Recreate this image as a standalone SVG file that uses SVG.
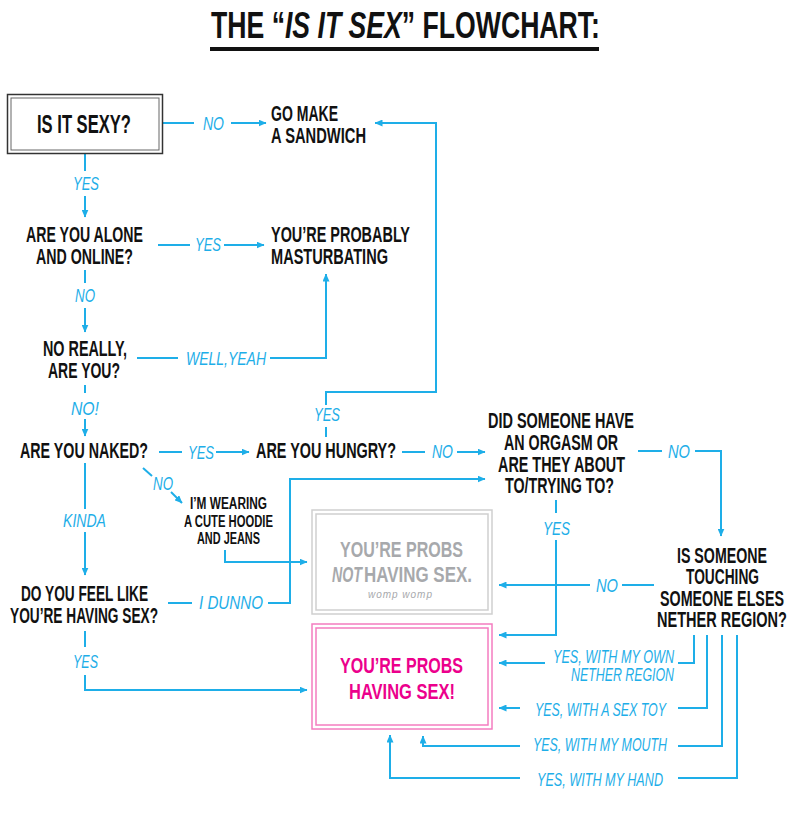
<svg xmlns="http://www.w3.org/2000/svg" width="800" height="828" viewBox="0 0 800 828">
<defs>
<marker id="ah" viewBox="0 0 8 7" refX="7.5" refY="3.5" markerWidth="8" markerHeight="7" markerUnits="userSpaceOnUse" orient="auto">
<path d="M0,0 L8,3.5 L0,7 z" fill="#1eaee8"/>
</marker>
<style>
.n{font-family:"Liberation Sans","DejaVu Sans",sans-serif;font-weight:bold;font-size:21.5px;fill:#111}
.s{font-size:16px}
.t{font-size:37px}
.b{font-size:25px}
.l{font-family:"Liberation Sans","DejaVu Sans",sans-serif;font-style:italic;font-size:19px;fill:#1eaee8}
.c{fill:none;stroke:#1eaee8;stroke-width:2}
.a{marker-end:url(#ah)}
.g{fill:#a7a9ac}
.p{fill:#ec008c}
.w{font-family:"Liberation Sans",sans-serif;font-style:italic;font-size:10px;fill:#a7a9ac}
</style>
</defs>
<rect width="800" height="828" fill="#fff"/>

<g id="title">
<text class="n t" x="211" y="38" textLength="389" lengthAdjust="spacingAndGlyphs">THE “<tspan font-style="italic">IS IT SEX</tspan>” FLOWCHART:</text>
<rect x="210" y="47" width="389" height="4" fill="#111"/>
</g>

<g id="connectors">
<path class="c" d="M162,123H194"/><path class="c a" d="M231,123H266"/>
<path class="c" d="M326,437V427"/><path class="c a" d="M326,405V392H436V123H375"/>
<path class="c" d="M85,153V171"/><path class="c a" d="M85,196V217"/>
<path class="c" d="M158,245H190"/><path class="c a" d="M224,245H264"/>
<path class="c" d="M85,270V283"/><path class="c a" d="M85,308V332"/>
<path class="c" d="M137,358H178"/><path class="c a" d="M270,358H326V274"/>
<path class="c" d="M85,385V393"/><path class="c a" d="M85,419V436"/>
<path class="c" d="M159,452H182"/><path class="c a" d="M216,452H249"/>
<path class="c" d="M402,452H425"/><path class="c a" d="M457,452H485"/>
<path class="c" d="M638,451H662"/><path class="c a" d="M695,451H721V536"/>
<path class="c" d="M556,500V513"/><path class="c a" d="M556,540V635H499"/>
<path class="c" d="M654,585H622"/><path class="c a" d="M590,585H499"/>
<path class="c" d="M143,468L152,476"/><path class="c a" d="M171,492L182,503"/>
<path class="c a" d="M225,550V562H307"/>
<path class="c" d="M85,463V509"/><path class="c a" d="M85,532V575"/>
<path class="c" d="M168,603H192"/><path class="c a" d="M268,603H290V479H485"/>
<path class="c" d="M85,631V647"/><path class="c a" d="M85,675V690H307"/>
<path class="c" d="M694,635V663H678"/><path class="c a" d="M545,663H499"/>
<path class="c" d="M707,635V708H678"/><path class="c a" d="M520,708H499"/>
<path class="c" d="M722,635V746H678"/><path class="c a" d="M520,746H423V736"/>
<path class="c" d="M737,635V778H678"/><path class="c a" d="M520,778H390V735"/>
</g>

<g id="labels">
<text class="l" x="203" y="130" textLength="21" lengthAdjust="spacingAndGlyphs">NO</text>
<text class="l" x="73" y="190" textLength="26" lengthAdjust="spacingAndGlyphs">YES</text>
<text class="l" x="195" y="251" textLength="26" lengthAdjust="spacingAndGlyphs">YES</text>
<text class="l" x="75" y="302" textLength="20" lengthAdjust="spacingAndGlyphs">NO</text>
<text class="l" x="186" y="365" textLength="80" lengthAdjust="spacingAndGlyphs">WELL,YEAH</text>
<text class="l" x="71" y="415" textLength="28" lengthAdjust="spacingAndGlyphs">NO!</text>
<text class="l" x="314" y="421" textLength="26" lengthAdjust="spacingAndGlyphs">YES</text>
<text class="l" x="188" y="459" textLength="26" lengthAdjust="spacingAndGlyphs">YES</text>
<text class="l" x="432" y="458" textLength="21" lengthAdjust="spacingAndGlyphs">NO</text>
<text class="l" x="668" y="458" textLength="22" lengthAdjust="spacingAndGlyphs">NO</text>
<text class="l" x="543" y="535" textLength="27" lengthAdjust="spacingAndGlyphs">YES</text>
<text class="l" x="153" y="490" textLength="20" lengthAdjust="spacingAndGlyphs">NO</text>
<text class="l" x="63" y="527" textLength="43" lengthAdjust="spacingAndGlyphs">KINDA</text>
<text class="l" x="199" y="609" textLength="64" lengthAdjust="spacingAndGlyphs">I DUNNO</text>
<text class="l" x="73" y="668" textLength="25" lengthAdjust="spacingAndGlyphs">YES</text>
<text class="l" x="596" y="592" textLength="22" lengthAdjust="spacingAndGlyphs">NO</text>
<text class="l" x="553" y="663" textLength="121" lengthAdjust="spacingAndGlyphs">YES, WITH MY OWN</text>
<text class="l" x="571" y="681" textLength="103" lengthAdjust="spacingAndGlyphs">NETHER REGION</text>
<text class="l" x="535" y="716" textLength="131" lengthAdjust="spacingAndGlyphs">YES, WITH A SEX TOY</text>
<text class="l" x="533" y="751" textLength="134" lengthAdjust="spacingAndGlyphs">YES, WITH MY MOUTH</text>
<text class="l" x="537" y="786" textLength="126" lengthAdjust="spacingAndGlyphs">YES, WITH MY HAND</text>
</g>

<g id="n-sexy">
<rect x="7.5" y="94.5" width="155" height="59" fill="none" stroke="#333" stroke-width="1.5"/>
<rect x="11" y="98" width="148" height="52" fill="none" stroke="#666" stroke-width="1"/>
<text class="n b" x="37" y="133" textLength="94" lengthAdjust="spacingAndGlyphs">IS IT SEXY?</text>
</g>
<g id="n-sandwich">
<text class="n" x="271" y="121" textLength="67" lengthAdjust="spacingAndGlyphs">GO MAKE</text>
<text class="n" x="271" y="143" textLength="95" lengthAdjust="spacingAndGlyphs">A SANDWICH</text>
</g>
<g id="n-alone">
<text class="n" x="26" y="242" textLength="117" lengthAdjust="spacingAndGlyphs">ARE YOU ALONE</text>
<text class="n" x="36" y="264" textLength="97" lengthAdjust="spacingAndGlyphs">AND ONLINE?</text>
</g>
<g id="n-masturbating">
<text class="n" x="271" y="242" textLength="139" lengthAdjust="spacingAndGlyphs">YOU’RE PROBABLY</text>
<text class="n" x="271" y="264" textLength="117" lengthAdjust="spacingAndGlyphs">MASTURBATING</text>
</g>
<g id="n-really">
<text class="n" x="43" y="356" textLength="84" lengthAdjust="spacingAndGlyphs">NO REALLY,</text>
<text class="n" x="48" y="378" textLength="72" lengthAdjust="spacingAndGlyphs">ARE YOU?</text>
</g>
<g id="n-naked">
<text class="n" x="20" y="458" textLength="128" lengthAdjust="spacingAndGlyphs">ARE YOU NAKED?</text>
</g>
<g id="n-hungry">
<text class="n" x="256" y="458" textLength="140" lengthAdjust="spacingAndGlyphs">ARE YOU HUNGRY?</text>
</g>
<g id="n-orgasm">
<text class="n" x="488" y="428" textLength="146" lengthAdjust="spacingAndGlyphs">DID SOMEONE HAVE</text>
<text class="n" x="504" y="450" textLength="114" lengthAdjust="spacingAndGlyphs">AN ORGASM OR</text>
<text class="n" x="498" y="472" textLength="127" lengthAdjust="spacingAndGlyphs">ARE THEY ABOUT</text>
<text class="n" x="505" y="493" textLength="109" lengthAdjust="spacingAndGlyphs">TO/TRYING TO?</text>
</g>
<g id="n-hoodie">
<text class="n s" x="190" y="509" textLength="77" lengthAdjust="spacingAndGlyphs">I’M WEARING</text>
<text class="n s" x="184" y="527" textLength="89" lengthAdjust="spacingAndGlyphs">A CUTE HOODIE</text>
<text class="n s" x="197" y="544" textLength="63" lengthAdjust="spacingAndGlyphs">AND JEANS</text>
</g>
<g id="n-feel">
<text class="n" x="21" y="601" textLength="127" lengthAdjust="spacingAndGlyphs">DO YOU FEEL LIKE</text>
<text class="n" x="10" y="623" textLength="148" lengthAdjust="spacingAndGlyphs">YOU’RE HAVING SEX?</text>
</g>
<g id="n-touching">
<text class="n" x="677" y="563" textLength="90" lengthAdjust="spacingAndGlyphs">IS SOMEONE</text>
<text class="n" x="686" y="584" textLength="73" lengthAdjust="spacingAndGlyphs">TOUCHING</text>
<text class="n" x="660" y="606" textLength="124" lengthAdjust="spacingAndGlyphs">SOMEONE ELSES</text>
<text class="n" x="657" y="627" textLength="130" lengthAdjust="spacingAndGlyphs">NETHER REGION?</text>
</g>
<g id="n-not">
<rect x="312" y="510" width="180" height="104" fill="none" stroke="#cfcfcf" stroke-width="1.5"/>
<rect x="316" y="514" width="172" height="96" fill="none" stroke="#cfcfcf" stroke-width="1.5"/>
<text class="n g" x="340" y="557" textLength="123" lengthAdjust="spacingAndGlyphs">YOU’RE PROBS</text>
<text class="n g" x="332" y="582" font-style="italic" textLength="30" lengthAdjust="spacingAndGlyphs">NOT</text>
<text class="n g" x="364" y="582" textLength="108" lengthAdjust="spacingAndGlyphs">HAVING SEX.</text>
<text class="w" x="368" y="598" textLength="64" lengthAdjust="spacing">womp womp</text>
</g>
<g id="n-yes">
<rect x="312" y="624" width="180" height="105" fill="none" stroke="#f47cc0" stroke-width="1.5"/>
<rect x="316" y="628" width="172" height="97" fill="none" stroke="#f47cc0" stroke-width="1.5"/>
<text class="n p" x="340" y="673" textLength="123" lengthAdjust="spacingAndGlyphs">YOU’RE PROBS</text>
<text class="n p" x="349" y="699" textLength="106" lengthAdjust="spacingAndGlyphs">HAVING SEX!</text>
</g>
</svg>
